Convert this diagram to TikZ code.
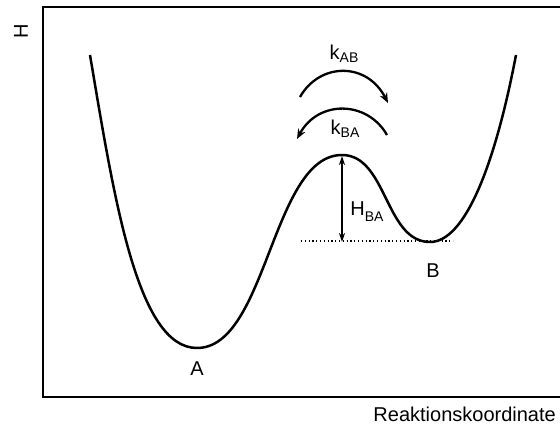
\documentclass[tikz,border=0pt]{standalone}
\usepackage{fontspec}
\setmainfont{Liberation Sans}
\usetikzlibrary{arrows,arrows.meta,positioning,calc}

\newcommand{\lowsub}[2][3pt]{\raisebox{-#1}{\fontsize{14}{14}\selectfont #2}}

\begin{document}
\begin{tikzpicture}[>=stealth, x=1pt, y=-1pt]
    \tikzset{
        axis/.style={draw, line width=2.7pt},
        curve/.style={draw, line width=2.5pt, line join=round},
        txt/.style={inner sep=0pt, font=\fontsize{20}{24}\selectfont},
        rate/.style={draw, -{Stealth[length=10pt, width=8pt]}, line width=2.3pt},
        line/.style={draw, {Stealth[length=9pt, width=6pt]}-{Stealth[length=9pt, width=6pt]}, line width=1.5pt}
    }
    \useasboundingbox (0,0) rectangle (560,425);

    % Axes
    \draw[axis] (560,7) -- (43,7) -- (43,397) -- (560,397);
    \node[txt, rotate=90] (h) at (21,31) {H};
    \node[txt, anchor=base east] (rk) at (556,421) {Reaktionskoordinate};

    % Energy curve
    \draw[curve] (90,55) .. controls (114,197) and (137,348) .. (197,348)
        .. controls (267,348) and (272,155) .. (342,155)
        .. controls (387,155) and (385,242) .. (430,242)
        .. controls (465,242) and (495,165) .. (516,55);
    \coordinate (peak) at (342,156);
    \coordinate (base) at (342,242);
    \coordinate (dl) at (301,241);
    \coordinate (dr) at (453,241);

    % Minima
    \node[txt, anchor=base] (A) at (197,375) {A};
    \node[txt, anchor=base] (B) at (433,277) {B};

    % Barrier
    \draw[line width=1.2pt, dash pattern=on 1.2pt off 2.6pt] (dl) -- (dr);
    \path[line] (peak) -- (base);
    \node[txt, anchor=base] (hba) at (367,215) {H\lowsub[6pt]{BA}};

    % Rates
    \coordinate (ab1) at (300,97);
    \coordinate (ab2) at (388,103);
    \coordinate (ba1) at (387,135);
    \coordinate (ba2) at (297,139);
    \path[rate] (ab1) .. controls (320,62) and (367,62) .. (ab2);
    \path[rate] (ba1) .. controls (367,100) and (318,100) .. (ba2);
    \node[txt, anchor=base] (kab) at (344,60) {k\lowsub{AB}};
    \node[txt, anchor=base] (kba) at (345,135) {k\lowsub{BA}};
\end{tikzpicture}
\end{document}
